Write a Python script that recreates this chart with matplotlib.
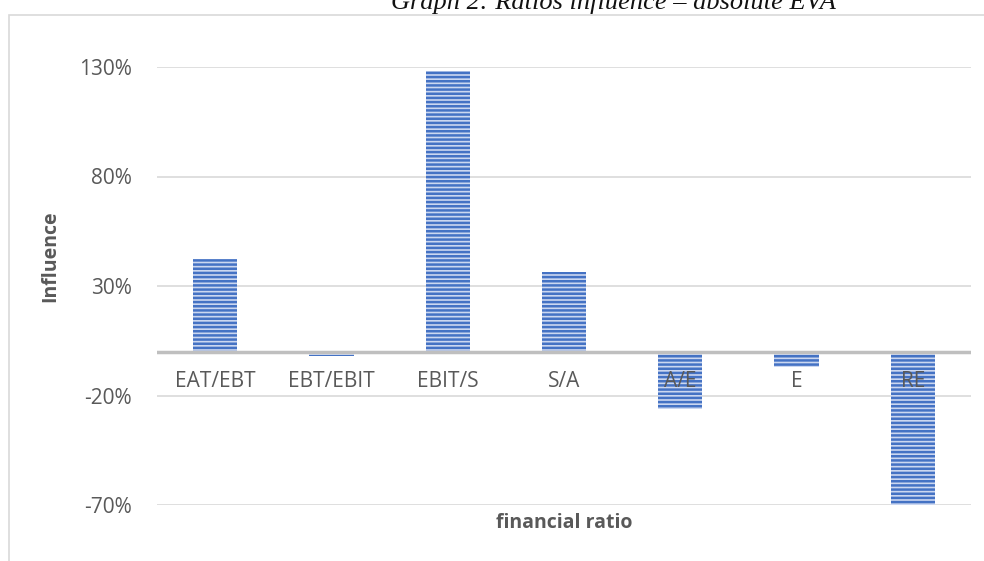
import matplotlib.pyplot as plt
from matplotlib.patches import Rectangle
from matplotlib.ticker import FuncFormatter

# ratios and their influence on absolute EVA (%)
ratios = ["EAT/EBT", "EBT/EBIT", "EBIT/S", "S/A", "A/E", "E", "RE"]
influence = [42.5, -2, 128, 36.5, -26, -7, -70.5]
yticks = [-70, -20, 30, 80, 130]

plt.rcParams['font.family'] = ['Open Sans', 'DejaVu Sans']
plt.rcParams['hatch.linewidth'] = 1.8

fig = plt.figure(figsize=(9.84, 5.61), dpi=100)

# chart border (light grey frame, cut by the image edges)
fig.patches.append(Rectangle((9 / 984, -0.05), 1.2, 1 - 15 / 561 + 0.05,
                             transform=fig.transFigure, fill=False,
                             edgecolor="#d9d9d9", lw=1.2))

fig.text(0.623, 0.995, "Graph 2: Ratios influence \u2013 absolute EVA",
         family="Liberation Serif", style="italic", fontsize=19,
         ha="center", va="center", color="#111111")

ax = fig.add_axes([157 / 984, 1 - 505 / 561, (971 - 157) / 984, (505 - 67) / 561])
x = range(len(ratios))
ax.bar(x, influence, width=0.38, color="#cbd7f0", edgecolor="#4472c4",
       hatch="----", linewidth=0, zorder=2)

ax.set_ylim(-70, 130)
ax.set_xlim(-0.5, len(ratios) - 0.5)
ax.set_yticks(yticks)
ax.yaxis.set_major_formatter(FuncFormatter(lambda v, p: f"{v:.0f}%"))
ax.grid(axis="y", color="#d9d9d9", lw=1.2, zorder=0)
ax.axhline(0, color="#bfbfbf", lw=2.5, zorder=3)

for s in ax.spines.values():
    s.set_visible(False)
ax.tick_params(axis="both", length=0, labelsize=15, colors="#595959")
ax.tick_params(axis="y", pad=18)
ax.set_xticks([])

# category labels sit just below the zero line
for i, name in enumerate(ratios):
    ax.text(i, -13.5, name, ha="center", va="center", fontsize=15,
            color="#595959", zorder=4)

ax.set_ylabel("Influence", fontsize=14, fontweight="bold", color="#595959")
ax.yaxis.set_label_coords(-0.119, 0.568)
ax.set_xlabel("financial ratio", fontsize=14, fontweight="bold",
              color="#595959", labelpad=6)

fig.savefig("out.png", dpi=100)
